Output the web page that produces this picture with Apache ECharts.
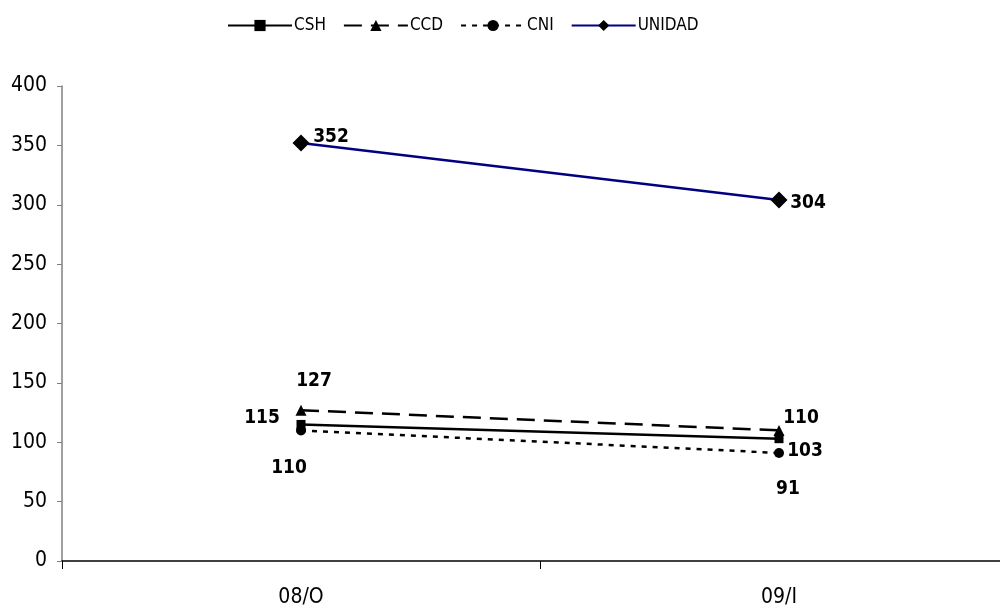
<!DOCTYPE html>
<html>
<head>
<meta charset="utf-8">
<script src="https://cdn.jsdelivr.net/npm/echarts@6/dist/echarts.min.js"></script>
<style>html,body{margin:0;padding:0;background:#fff}#c{width:1000px;height:610px}</style>
</head>
<body>
<div id="c"></div>
<script>
const categories = ['08/O', '09/I'];
const CSH = [115, 103];
const CCD = [127, 110];
const CNI = [110, 91];
const UNIDAD = [352, 304];
const yTicks = [0, 50, 100, 150, 200, 250, 300, 350, 400];

const NARROW = "'DejaVu Sans Condensed','Liberation Sans Narrow',sans-serif";

// label offsets (style only)
const offs = {
  CSH: [[-39, -6], [26, 12]],
  CCD: [[13, -29], [22, -12]],
  CNI: [[-12, 38], [9, 36]],
  UNIDAD: [[30, -6], [29, 3]]
};

function mk(name, vals, opts) {
  return Object.assign({
    name: name,
    type: 'line',
    data: vals.map((v, i) => ({
      value: v,
      label: { offset: offs[name][i] }
    })),
    label: {
      show: true, position: 'inside', color: '#000',
      fontFamily: NARROW, fontWeight: 'bold', fontSize: 19
    },
    emphasis: { disabled: true },
    animation: false
  }, opts);
}

const series = [
  mk('CSH', CSH, { symbol: 'rect', symbolSize: 9, itemStyle: { color: '#000' }, lineStyle: { color: '#000', width: 2.5 } }),
  mk('CCD', CCD, { symbol: 'triangle', symbolSize: 11, itemStyle: { color: '#000' }, lineStyle: { color: '#000', width: 2.5, type: [18, 9] } }),
  mk('CNI', CNI, { symbol: 'circle', symbolSize: 10, itemStyle: { color: '#000' }, lineStyle: { color: '#000', width: 2.5, type: [5, 6] } }),
  mk('UNIDAD', UNIDAD, { symbol: 'diamond', symbolSize: 17, itemStyle: { color: '#000' }, lineStyle: { color: '#000080', width: 2.5 } })
];

const chart = echarts.init(document.getElementById('c'), null, { renderer: 'canvas' });
chart.setOption({
  backgroundColor: '#fff',
  animation: false,
  legend: {
    left: 222, top: 12,
    itemWidth: 64, itemHeight: 14, itemGap: 17,
    textStyle: { fontFamily: NARROW, fontSize: 17, color: '#000', padding: [0, 0, 0, -3] },
    data: ['CSH', 'CCD', 'CNI', 'UNIDAD']
  },
  grid: { left: 62, top: 86, width: 956, height: 475, containLabel: false, outerBoundsMode: 'none' },
  xAxis: {
    type: 'category',
    data: categories,
    boundaryGap: true,
    axisLine: { lineStyle: { color: '#000', width: 1.5 } },
    axisTick: { show: true, length: 8, lineStyle: { color: '#000' } },
    axisLabel: { fontFamily: NARROW, fontSize: 21, color: '#000', margin: 26 },
    splitLine: { show: false }
  },
  yAxis: {
    type: 'value',
    min: yTicks[0], max: yTicks[yTicks.length - 1], interval: 50,
    axisLine: { show: true, lineStyle: { color: '#808080', width: 1.5 } },
    axisTick: { show: true, length: 5, lineStyle: { color: '#808080' } },
    axisLabel: { fontFamily: NARROW, fontSize: 21, color: '#000', margin: 15 },
    splitLine: { show: false }
  },
  series: series
});
</script>
</body>
</html>
